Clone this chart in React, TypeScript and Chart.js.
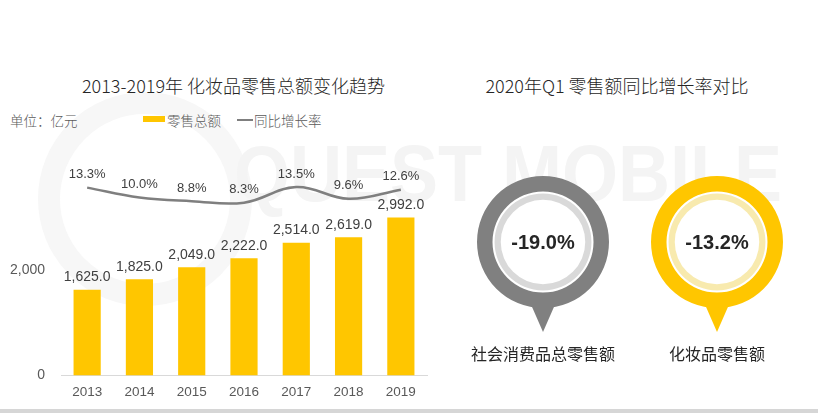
import React, { useEffect, useRef } from 'react';
import { Chart, registerables } from 'chart.js';

Chart.register(...registerables);

// ---------- data ----------
const years = ['2013', '2014', '2015', '2016', '2017', '2018', '2019'];
const retailTotal = [1625.0, 1825.0, 2049.0, 2222.0, 2514.0, 2619.0, 2992.0];
const yoyGrowth = [13.3, 10.0, 8.8, 8.3, 13.5, 9.6, 12.6];
const yTicks = [0, 2000];
const q1Labels = ['社会消费品总零售额', '化妆品零售额'];
const q1Growth = [-19.0, -13.2];

// ---------- styles ----------
const YELLOW = '#FFC600';
const LINE_GRAY = '#7F7F7F';
const SANS = '"Liberation Sans", Arial, sans-serif';
const CJK = '"Noto Sans CJK SC", "Noto Sans", sans-serif';
const pinColors = [
  { outer: '#808080', ring: '#D9D9D9' },
  { outer: '#FFC600', ring: '#F8EAAE' },
];

const fmt1 = (v: number) =>
  v.toLocaleString('en-US', { minimumFractionDigits: 1, maximumFractionDigits: 1 });

const valueLabels = {
  id: 'valueLabels',
  afterDatasetsDraw(chart: any) {
    const { ctx } = chart;
    ctx.save();
    ctx.textAlign = 'center';
    ctx.textBaseline = 'middle';
    ctx.fillStyle = '#404040';
    chart.data.datasets.forEach((ds: any, i: number) => {
      const meta = chart.getDatasetMeta(i);
      meta.data.forEach((el: any, j: number) => {
        const v = ds.data[j];
        if (ds.type === 'line') {
          ctx.font = `13px ${SANS}`;
          ctx.fillText(fmt1(v) + '%', el.x, el.y - 13);
        } else {
          ctx.font = `14px ${SANS}`;
          ctx.fillText(fmt1(v), el.x, el.y - 12.5);
        }
      });
    });
    ctx.restore();
  },
};

const pinDecor = {
  id: 'pinDecor',
  beforeDatasetsDraw(chart: any, _args: any, opts: any) {
    const { ctx, chartArea } = chart;
    const cx = (chartArea.left + chartArea.right) / 2;
    const cy = (chartArea.top + chartArea.bottom) / 2;
    ctx.save();
    ctx.fillStyle = opts.color;
    ctx.beginPath();
    ctx.moveTo(cx - 14, cy + 58);
    ctx.lineTo(cx + 14, cy + 58);
    ctx.lineTo(cx, cy + 90);
    ctx.closePath();
    ctx.fill();
    ctx.fillStyle = '#ffffff';
    ctx.beginPath();
    ctx.arc(cx, cy, 51, 0, Math.PI * 2);
    ctx.fill();
    ctx.restore();
  },
  afterDatasetsDraw(chart: any, _args: any, opts: any) {
    const { ctx, chartArea } = chart;
    const cx = (chartArea.left + chartArea.right) / 2;
    const cy = (chartArea.top + chartArea.bottom) / 2;
    ctx.save();
    ctx.textAlign = 'center';
    ctx.textBaseline = 'middle';
    ctx.fillStyle = '#262626';
    ctx.font = `bold 20px ${SANS}`;
    ctx.fillText(opts.value.toFixed(1) + '%', cx, cy + 1);
    ctx.font = `16px ${CJK}`;
    ctx.fillText(opts.label, cx, cy + 112);
    ctx.restore();
  },
};

function BarLineChart() {
  const ref = useRef<HTMLCanvasElement>(null);
  useEffect(() => {
    if (!ref.current) return;
    const chart = new Chart(ref.current, {
      type: 'bar',
      data: {
        labels: years,
        datasets: [
          {
            type: 'line',
            label: '同比增长率',
            data: yoyGrowth,
            yAxisID: 'y1',
            borderColor: LINE_GRAY,
            borderWidth: 2.5,
            pointRadius: 0,
            tension: 0.4,
            order: 0,
          } as any,
          {
            type: 'bar',
            label: '零售总额',
            data: retailTotal,
            yAxisID: 'y',
            backgroundColor: YELLOW,
            barPercentage: 0.52,
            categoryPercentage: 1,
            order: 1,
          } as any,
        ],
      },
      options: {
        responsive: false,
        animation: false,
        events: [],
        layout: { padding: { top: 18, right: 13, left: 0, bottom: 0 } },
        plugins: {
          legend: { display: false },
          tooltip: { enabled: false },
          title: { display: false },
        },
        scales: {
          x: {
            grid: { display: false, drawTicks: false },
            border: { display: true, color: '#D9D9D9', width: 1 },
            ticks: { font: { family: SANS, size: 13.5 }, color: '#595959', padding: 9 },
            afterFit: (s: any) => {
              s.height = 37.5;
            },
          },
          y: {
            min: 0,
            max: 4000,
            grid: { display: false, drawTicks: false },
            border: { display: false },
            ticks: {
              font: { family: SANS, size: 14 },
              color: '#595959',
              padding: 16,
              callback: (v: any) => Number(v).toLocaleString('en-US'),
            },
            afterBuildTicks: (s: any) => {
              s.ticks = yTicks.map((v) => ({ value: v }));
            },
            afterFit: (s: any) => {
              s.width = 61;
            },
          },
          y1: { display: false, min: -49, max: 21 },
        },
      } as any,
      plugins: [valueLabels],
    });
    return () => chart.destroy();
  }, []);
  return (
    <canvas
      ref={ref}
      width={440}
      height={273}
      style={{ position: 'absolute', left: 0, top: 140, width: 440, height: 273 }}
    />
  );
}

function Pin({ index, left }: { index: number; left: number }) {
  const ref = useRef<HTMLCanvasElement>(null);
  useEffect(() => {
    if (!ref.current) return;
    const c = pinColors[index];
    const chart = new Chart(ref.current, {
      type: 'doughnut',
      data: {
        labels: [q1Labels[index]],
        datasets: [
          { data: [1], backgroundColor: [c.outer], borderWidth: 0, weight: 15 } as any,
          { data: [1], backgroundColor: ['rgba(255,255,255,0)'], borderWidth: 0, weight: 2 } as any,
          { data: [1], backgroundColor: [c.ring], borderWidth: 0, weight: 6 } as any,
        ],
      },
      options: {
        responsive: false,
        animation: false,
        events: [],
        cutout: '64%',
        layout: { padding: { left: 19, right: 19, top: 4, bottom: 64 } },
        plugins: {
          legend: { display: false },
          tooltip: { enabled: false },
          pinDecor: { color: c.outer, value: q1Growth[index], label: q1Labels[index] },
        },
      } as any,
      plugins: [pinDecor],
    });
    return () => chart.destroy();
  }, [index]);
  return (
    <canvas
      ref={ref}
      width={170}
      height={200}
      style={{ position: 'absolute', left, top: 172, width: 170, height: 200 }}
    />
  );
}

const textStyle = (left: number, top: number): React.CSSProperties => ({
  position: 'absolute',
  left,
  top,
  fontSize: 13.5,
  lineHeight: '20px',
  color: '#595959',
  whiteSpace: 'nowrap',
  fontWeight: 300,
});

const titleStyle = (left: number, width: number): React.CSSProperties => ({
  position: 'absolute',
  left,
  width,
  top: 72,
  textAlign: 'center',
  fontSize: 18,
  lineHeight: '26px',
  color: '#262626',
  whiteSpace: 'nowrap',
  fontWeight: 300,
});

export default function App() {
  return (
    <div
      style={{
        position: 'fixed',
        left: 0,
        top: 0,
        width: 818,
        height: 413,
        background: '#ffffff',
        overflow: 'hidden',
        fontFamily: CJK,
      }}
    >
      {/* faint watermark */}
      <div
        style={{
          position: 'absolute',
          left: 38,
          top: 92,
          width: 170,
          height: 170,
          borderRadius: '50%',
          border: '22px solid #F7F7F7',
        }}
      />
      <div
        style={{
          position: 'absolute',
          left: 234,
          top: 134,
          fontFamily: SANS,
          fontWeight: 'bold',
          fontSize: 80,
          lineHeight: '80px',
          color: '#F4F4F4',
          whiteSpace: 'nowrap',
          transform: 'scaleX(0.9)',
          transformOrigin: 'left top',
        }}
      >
        QUEST MOBILE
      </div>

      {/* titles */}
      <div style={titleStyle(0, 467)}>2013-2019年 化妆品零售总额变化趋势</div>
      <div style={titleStyle(417, 400)}>2020年Q1 零售额同比增长率对比</div>

      {/* unit + legend */}
      <div style={textStyle(10, 110)}>单位：亿元</div>
      <div style={{ position: 'absolute', left: 143, top: 116, width: 22, height: 6, background: YELLOW }} />
      <div style={textStyle(167, 110)}>零售总额</div>
      <div style={{ position: 'absolute', left: 237, top: 119, width: 16, height: 2, background: LINE_GRAY }} />
      <div style={textStyle(254, 110)}>同比增长率</div>

      <BarLineChart />
      <Pin index={0} left={458} />
      <Pin index={1} left={632} />

      {/* bottom bar */}
      <div style={{ position: 'absolute', left: 0, top: 409, width: 818, height: 4, background: '#D6D6D6' }} />
    </div>
  );
}
